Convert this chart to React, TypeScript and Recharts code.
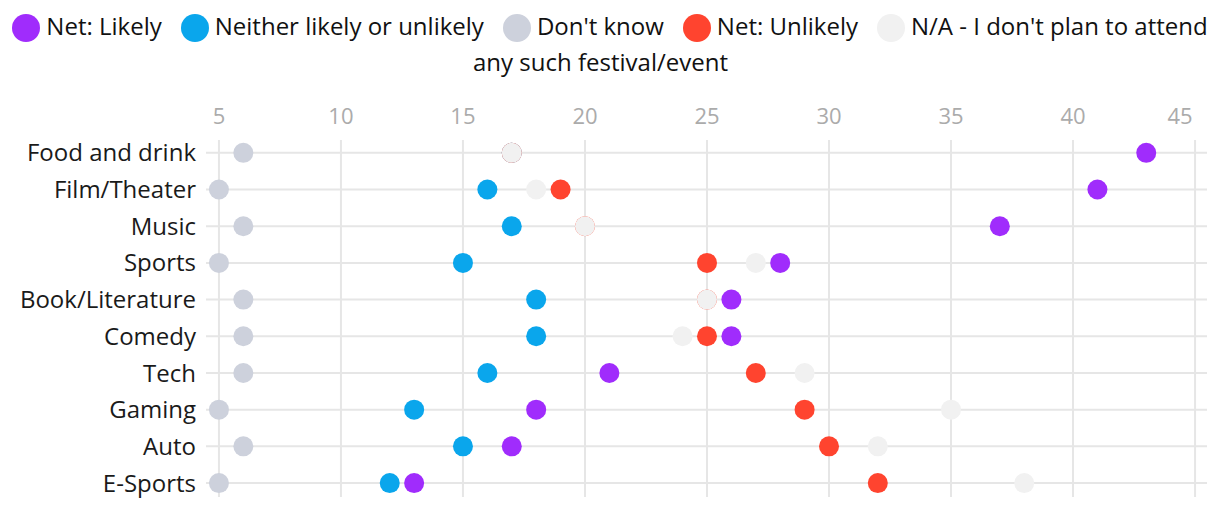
import React from "react";
import {
  ScatterChart,
  Scatter,
  XAxis,
  YAxis,
  ReferenceLine,
  Legend,
} from "recharts";

const categories = [
  "Food and drink",
  "Film/Theater",
  "Music",
  "Sports",
  "Book/Literature",
  "Comedy",
  "Tech",
  "Gaming",
  "Auto",
  "E-Sports",
];

const likely = [43, 41, 37, 28, 26, 26, 21, 18, 17, 13];
const neither = [17, 16, 17, 15, 18, 18, 16, 13, 15, 12];
const dontKnow = [6, 5, 6, 5, 6, 6, 6, 5, 6, 5];
const unlikely = [17, 19, 20, 25, 25, 25, 27, 29, 30, 32];
const notAttending = [17, 18, 20, 27, 25, 24, 29, 35, 32, 38];

const xTicks = [5, 10, 15, 20, 25, 30, 35, 40, 45];
const yTicks = categories.map((_, i) => i);

const series = [
  { name: "Net: Likely", values: likely, color: "#A02CFC" },
  { name: "Neither likely or unlikely", values: neither, color: "#0AA6EC" },
  { name: "Don't know", values: dontKnow, color: "#CDD1DC" },
  { name: "Net: Unlikely", values: unlikely, color: "#FF442F" },
  { name: "N/A - I don't plan to attend any such festival/event", values: notAttending, color: "#F1F1F1" },
];

const toPoints = (values: number[]) =>
  values.map((v, i) => ({ value: v, idx: i, category: categories[i] }));

const FONT = "'Open Sans', 'Noto Sans', sans-serif";
const GRID = "#e6e6e6";

function LegendBox() {
  return (
    <div
      style={{
        width: 1220,
        textAlign: "center",
        fontFamily: FONT,
        fontSize: 24,
        lineHeight: "36px",
        color: "#111",
        paddingTop: 8,
      }}
    >
      {series.map((s) => (
        <span key={s.name} style={{ marginRight: 19 }}>
          <span
            style={{
              display: "inline-block",
              width: 28,
              height: 28,
              borderRadius: 14,
              background: s.color,
              verticalAlign: -7,
              marginRight: 6,
            }}
          />
          {s.name}
        </span>
      ))}
    </div>
  );
}

function XTick(props: any) {
  const { x, y, payload } = props;
  const shift = payload.value === 45 ? -15 : 0;
  return (
    <text
      x={x + shift}
      y={y}
      textAnchor="middle"
      fill="#ababab"
      fontSize={22}
      fontFamily={FONT}
    >
      {payload.value}
    </text>
  );
}

export default function App() {
  return (
    <div style={{ position: "absolute", left: 0, top: 0 }}>
      <ScatterChart
        width={1220}
        height={510}
        margin={{ top: 24, right: 13, bottom: 13, left: 0 }}
      >
        <Legend
          verticalAlign="top"
          content={() => <LegendBox />}
          wrapperStyle={{ top: 0, left: 0, width: 1220, height: 76 }}
        />
        <XAxis
          type="number"
          dataKey="value"
          orientation="top"
          domain={[4.47, 45.49]}
          ticks={xTicks}
          height={40}
          axisLine={false}
          tickLine={false}
          tickSize={0}
          tickMargin={16}
          tick={<XTick />}
          allowDataOverflow
        />
        <YAxis
          type="number"
          dataKey="idx"
          domain={[-0.35, 9.38]}
          ticks={yTicks}
          reversed
          width={206}
          axisLine={false}
          tickLine={false}
          tickSize={0}
          tickMargin={10}
          tickFormatter={(i: number) => categories[i]}
          tick={{ fill: "#1a1a1a", fontSize: 24, fontFamily: FONT }}
          interval={0}
          allowDataOverflow
        />
        {xTicks.map((t) => (
          <ReferenceLine key={"x" + t} x={t} stroke={GRID} strokeWidth={2} />
        ))}
        {yTicks.map((t) => (
          <ReferenceLine key={"y" + t} y={t} stroke={GRID} strokeWidth={2} />
        ))}
        {series.map((s) => (
          <Scatter
            key={s.name}
            name={s.name}
            data={toPoints(s.values)}
            fill={s.color}
            isAnimationActive={false}
            shape={(p: any) => <circle cx={p.cx} cy={p.cy} r={10} fill={s.color} />}
          />
        ))}
      </ScatterChart>
    </div>
  );
}
